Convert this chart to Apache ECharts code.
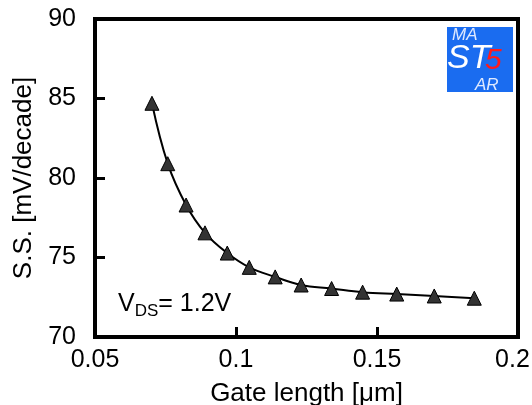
<!DOCTYPE html>
<html>
<head>
<meta charset="utf-8">
<script src="https://cdn.jsdelivr.net/npm/echarts@6/dist/echarts.min.js"></script>
<style>
  html, body { margin: 0; padding: 0; background: #fff; }
  #main { width: 532px; height: 405px; }
</style>
</head>
<body>
<div id="main"></div>
<script>
// 栅长 (µm) 和 亚阈值摆幅 (mV/decade)
var gateLength = [0.0702, 0.0758, 0.0823, 0.0890, 0.0969, 0.1047, 0.1139, 0.1231, 0.1339, 0.1449, 0.1570, 0.1703, 0.1845]
var ssValues = [84.7, 80.9, 78.3, 76.55, 75.28, 74.38, 73.78, 73.27, 73.05, 72.82, 72.70, 72.58, 72.44]
var xTicks = [0.05, 0.1, 0.15, 0.2]
var yTicks = [70, 75, 80, 85, 90]

var data = gateLength.map(function (x, i) { return [x, ssValues[i]] })

var myChart = echarts.init(document.getElementById('main'))
var font = 'Liberation Sans, Arial, sans-serif'

var option = {
  backgroundColor: '#fff',
  animation: false,
  grid: {
    left: 95, top: 19, right: 14, bottom: 68,
    outerBoundsMode: 'none', containLabel: false,
    show: true, borderColor: '#000', borderWidth: 4
  },
  xAxis: {
    type: 'value',
    min: xTicks[0], max: xTicks[xTicks.length - 1], interval: 0.05,
    name: 'Gate length [\u03bcm]',
    nameLocation: 'middle', nameGap: 44,
    nameTextStyle: { fontFamily: font, fontSize: 26, color: '#000' },
    axisLine: { show: true, lineStyle: { color: '#000', width: 4 } },
    axisTick: { show: true, inside: true, length: 10, lineStyle: { color: '#000', width: 3 } },
    axisLabel: {
      fontFamily: font, fontSize: 25, color: '#000', margin: 11,
      // 最后一个标签稍微左移，避免被裁掉
      formatter: function (v) {
        var s = String(+v.toFixed(2))
        return v >= xTicks[xTicks.length - 1] ? '{last|' + s + '}' : s
      },
      rich: { last: { fontFamily: font, fontSize: 25, color: '#000', padding: [0, 11, 0, 0] } }
    },
    splitLine: { show: false }
  },
  yAxis: {
    type: 'value',
    min: yTicks[0], max: yTicks[yTicks.length - 1], interval: 5,
    name: 'S.S. [mV/decade]',
    nameLocation: 'middle', nameGap: 57,
    nameTextStyle: { fontFamily: font, fontSize: 26, color: '#000' },
    axisLine: { show: true, lineStyle: { color: '#000', width: 4 } },
    axisTick: { show: true, inside: true, length: 10, lineStyle: { color: '#000', width: 3 } },
    axisLabel: { fontFamily: font, fontSize: 25, color: '#000', margin: 19 },
    splitLine: { show: false }
  },
  series: [{
    type: 'line',
    data: data,
    smooth: 0.4,
    symbol: 'triangle',
    symbolSize: 14,
    lineStyle: { color: '#000', width: 2 },
    itemStyle: { color: '#333', borderColor: '#000', borderWidth: 1 }
  }],
  graphic: [
    {
      type: 'text', left: 118, top: 292,
      style: {
        text: '{v|V}{s|DS}{v|= 1.2V}',
        rich: {
          v: { fontFamily: font, fontSize: 25, fill: '#000' },
          s: { fontFamily: font, fontSize: 17, fill: '#000', verticalAlign: 'bottom', padding: [14, 0, 0, 0] }
        }
      }
    },
    {
      type: 'group', left: 447, top: 27,
      children: [
        { type: 'rect', shape: { x: 0, y: 0, width: 66, height: 65 }, style: { fill: '#1a6cf0' } },
        { type: 'text', x: 5, y: 0, style: { text: 'MA', fontFamily: font, fontStyle: 'italic', fontSize: 17, fill: '#dfe9ff' } },
        { type: 'text', x: 0, y: 15, style: { text: 'ST', fontFamily: font, fontStyle: 'italic', fontSize: 34, fill: '#fff' } },
        { type: 'text', x: 38, y: 19, style: { text: '5', fontFamily: font, fontStyle: 'italic', fontSize: 30, fill: '#ff1a1a' } },
        { type: 'text', x: 28, y: 50, style: { text: 'AR', fontFamily: font, fontStyle: 'italic', fontSize: 17, fill: '#dfe9ff' } }
      ]
    }
  ]
}

myChart.setOption(option)
</script>
</body>
</html>
